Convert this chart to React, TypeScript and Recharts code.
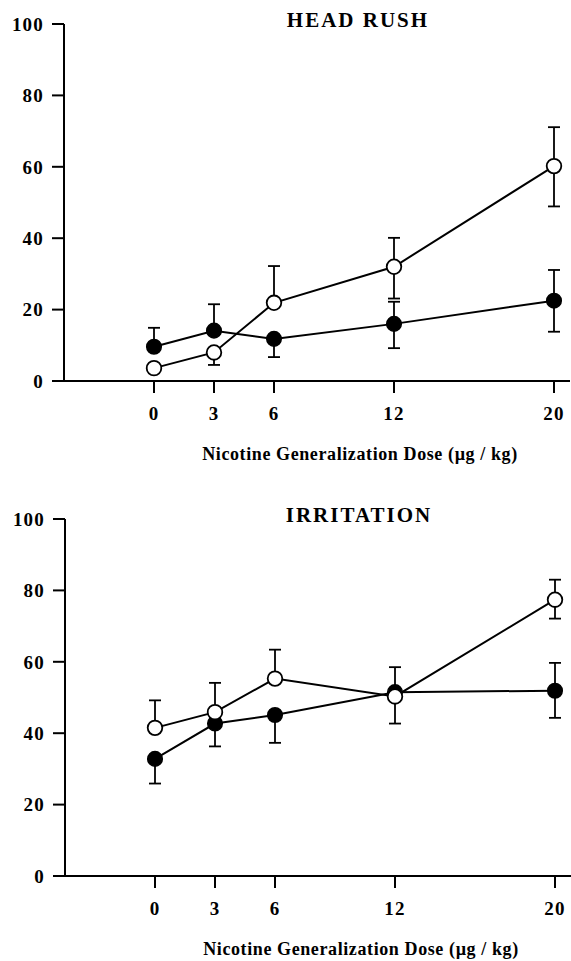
import React from "react";
import { LineChart, Line, XAxis, YAxis, ErrorBar, Label } from "recharts";

const doses = [0, 3, 6, 12, 20];
const yTicks = [0, 20, 40, 60, 80, 100];

const headRushFilled = [9.6, 14.1, 11.8, 16.0, 22.5];
const headRushFilledErr = [[0, 5.3], [0, 7.4], [5.1, 0], [6.8, 6.2], [8.7, 8.6]];
const headRushOpen = [3.6, 8.0, 21.9, 32.0, 60.2];
const headRushOpenErr = [[0, 0], [3.5, 0], [0, 10.3], [8.9, 8.1], [11.3, 10.9]];

const irritationFilled = [32.8, 42.7, 45.1, 51.5, 51.9];
const irritationFilledErr = [[6.9, 0], [6.4, 0], [7.8, 0], [0, 7.0], [7.6, 7.8]];
const irritationOpen = [41.5, 45.9, 55.3, 50.3, 77.4];
const irritationOpenErr = [[0, 7.7], [0, 8.2], [0, 8.1], [7.6, 0], [5.3, 5.6]];

const xLabel = "Nicotine Generalization Dose (\u00b5g / kg)";

const FONT = "'Liberation Serif', 'Times New Roman', serif";

function build(filled: number[], filledErr: number[][], open: number[], openErr: number[][]) {
  return doses.map((d, i) => ({
    dose: d,
    filled: filled[i],
    filledErr: filledErr[i],
    open: open[i],
    openErr: openErr[i],
  }));
}

const tickStyle = {
  fill: "#000",
  fontFamily: FONT,
  fontWeight: "bold",
  fontSize: 19,
  letterSpacing: 1.2,
};

function Panel({ title, data }: { title: string; data: any[] }) {
  return (
    <div style={{ position: "relative", width: 571, height: 470 }}>
      <LineChart
        width={571}
        height={470}
        data={data}
        margin={{ top: 24, right: 1, left: 0, bottom: 0 }}
      >
        <XAxis
          type="number"
          dataKey="dose"
          domain={[-4.5, 20.8]}
          ticks={doses}
          allowDataOverflow
          height={89}
          tickSize={12}
          tickMargin={14}
          tick={tickStyle}
          axisLine={{ stroke: "#000", strokeWidth: 2 }}
          tickLine={{ stroke: "#000", strokeWidth: 2 }}
        >
          <Label
            value={xLabel}
            position="insideBottom"
            offset={10}
            dx={43}
            style={{
              fill: "#000",
              fontFamily: FONT,
              fontWeight: "bold",
              fontSize: 18,
              letterSpacing: 0.6,
            }}
          />
        </XAxis>
        <YAxis
          type="number"
          domain={[0, 100]}
          ticks={yTicks}
          allowDataOverflow
          width={64}
          tickSize={12}
          tickMargin={8}
          tick={tickStyle}
          axisLine={{ stroke: "#000", strokeWidth: 2 }}
          tickLine={{ stroke: "#000", strokeWidth: 2 }}
        />
        <Line
          type="linear"
          dataKey="filled"
          stroke="#000"
          strokeWidth={2}
          isAnimationActive={false}
          dot={{ r: 7.3, fill: "#000", stroke: "#000", strokeWidth: 1.5 }}
          activeDot={false}
        >
          <ErrorBar dataKey="filledErr" width={6} stroke="#000" strokeWidth={1.8} direction="y" />
        </Line>
        <Line
          type="linear"
          dataKey="open"
          stroke="#000"
          strokeWidth={2}
          isAnimationActive={false}
          dot={{ r: 7.3, fill: "#fff", stroke: "#000", strokeWidth: 1.8 }}
          activeDot={false}
        >
          <ErrorBar dataKey="openErr" width={6} stroke="#000" strokeWidth={1.8} direction="y" />
        </Line>
      </LineChart>
      <svg
        width={571}
        height={40}
        style={{ position: "absolute", left: 0, top: 0, pointerEvents: "none" }}
      >
        <text
          x={358}
          y={27}
          textAnchor="middle"
          fill="#000"
          style={{ fontFamily: FONT, fontWeight: "bold", fontSize: 21, letterSpacing: 2 }}
        >
          {title}
        </text>
      </svg>
    </div>
  );
}

export default function App() {
  const headRush = build(headRushFilled, headRushFilledErr, headRushOpen, headRushOpenErr);
  const irritation = build(irritationFilled, irritationFilledErr, irritationOpen, irritationOpenErr);
  return (
    <div
      style={{
        position: "absolute",
        left: 0,
        top: 0,
        width: 571,
        height: 961,
        background: "#fff",
        overflow: "hidden",
      }}
    >
      <div style={{ position: "absolute", left: 0, top: 0 }}>
        <Panel title="HEAD RUSH" data={headRush} />
      </div>
      <div style={{ position: "absolute", left: 1, top: 495 }}>
        <Panel title="IRRITATION" data={irritation} />
      </div>
    </div>
  );
}
